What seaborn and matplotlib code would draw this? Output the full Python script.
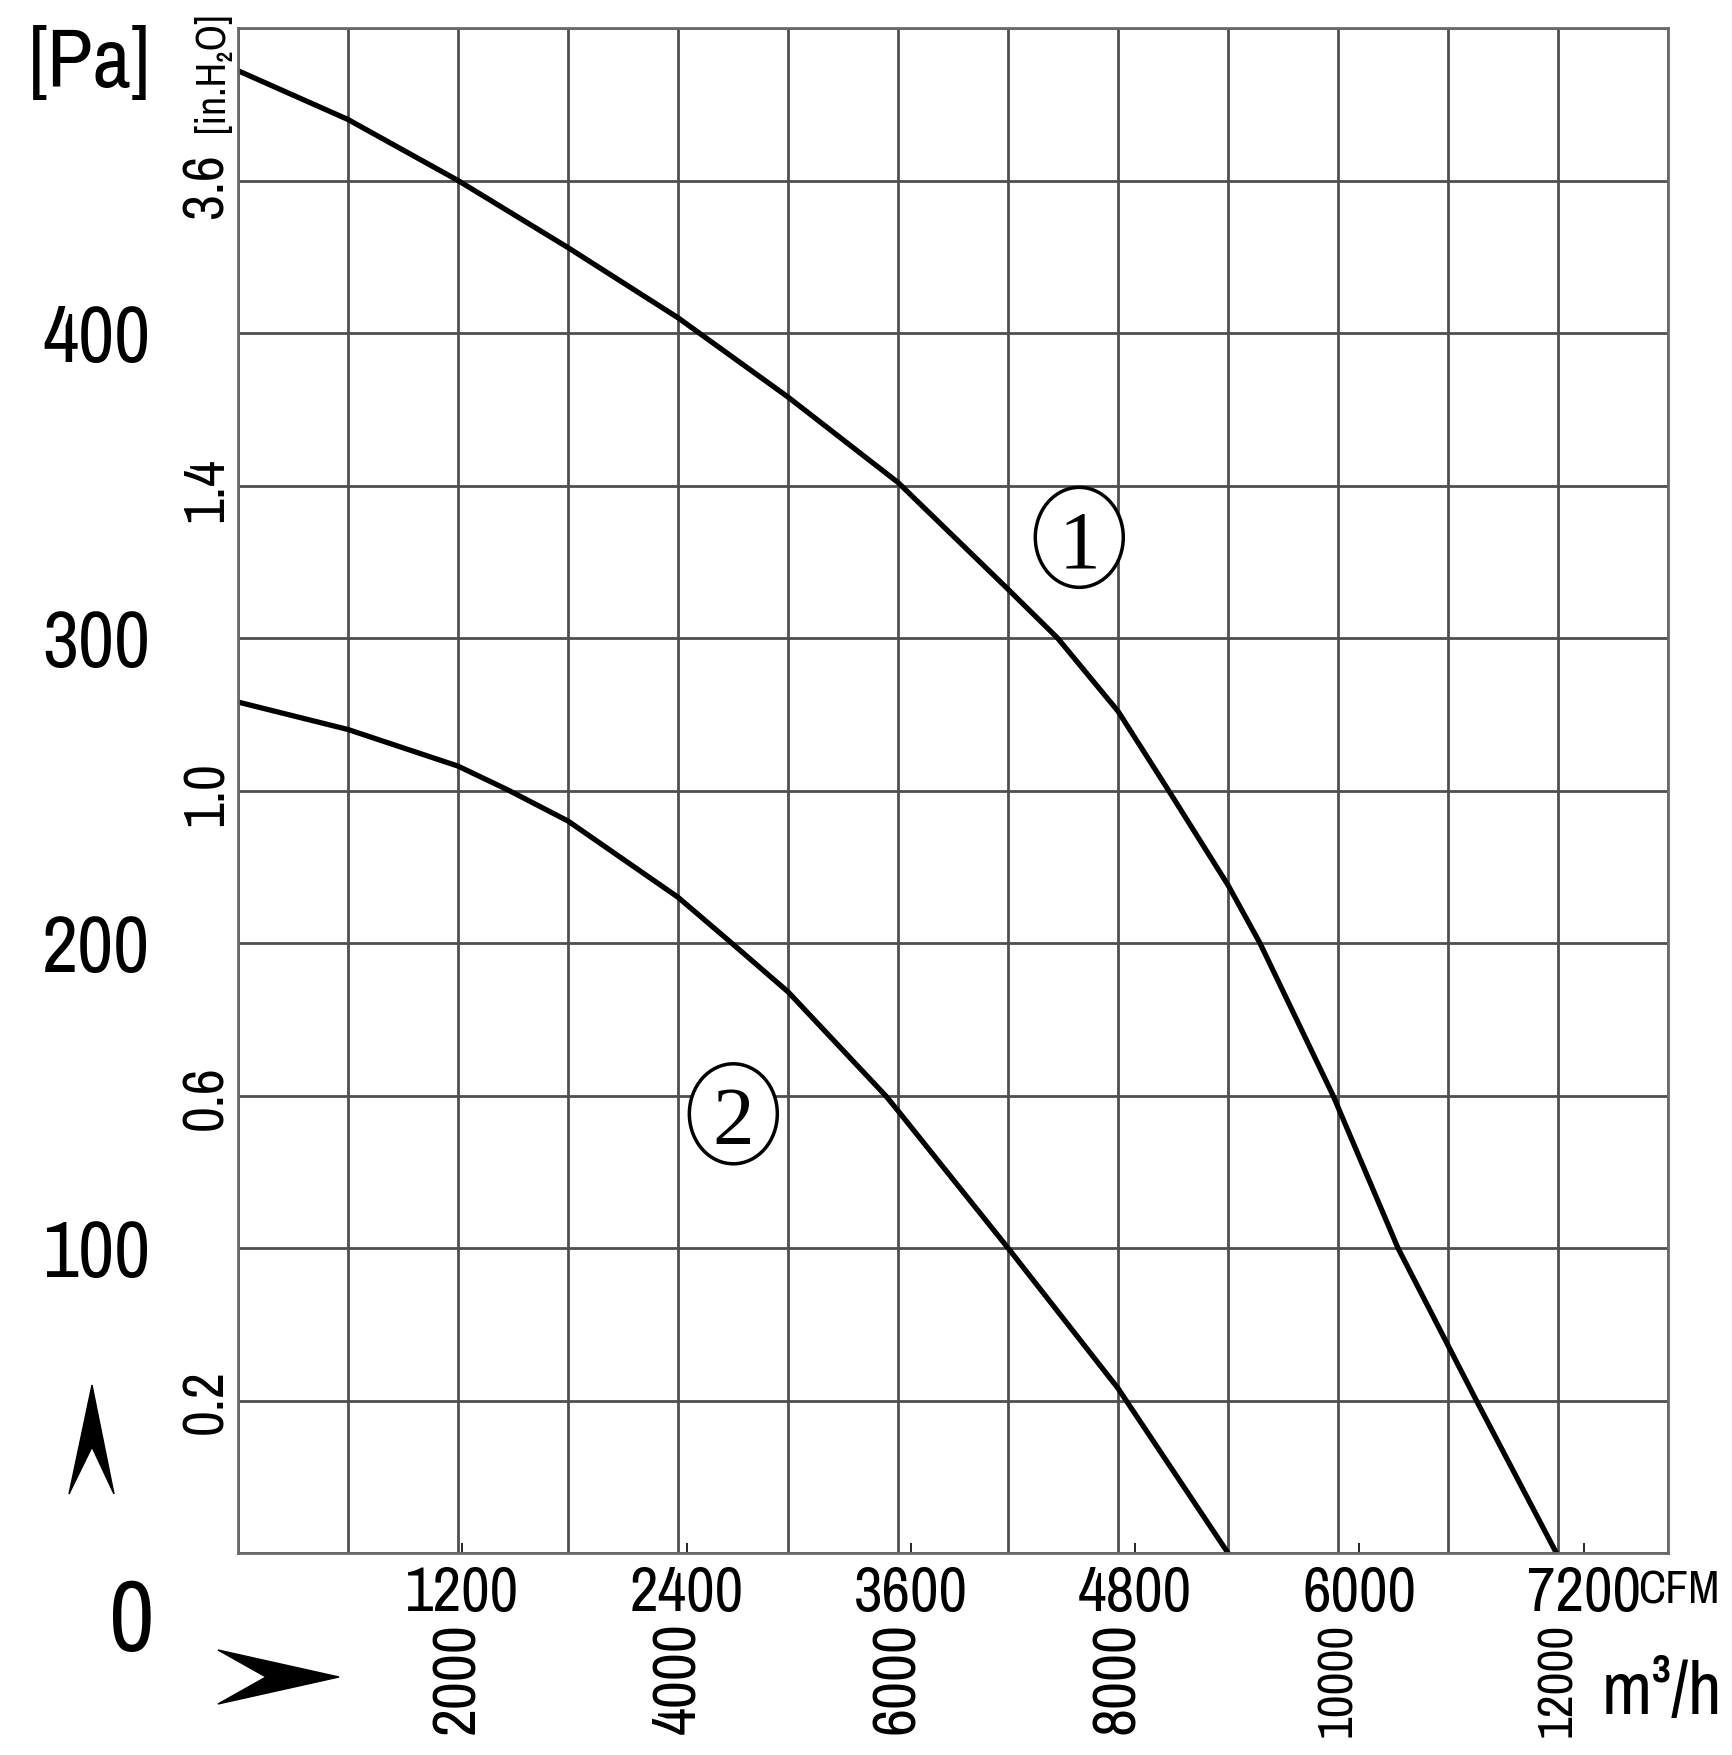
import matplotlib
matplotlib.use('Agg')
import matplotlib.pyplot as plt
import matplotlib.transforms as mtransforms
from matplotlib.patches import Polygon, Ellipse
import seaborn as sns
import numpy as np
import pandas as pd

# Fan curves: airflow in m3/h, static pressure in Pa
flow_1 = [0, 1000, 2000, 3000, 4000, 5000, 6000, 7000, 7450, 8000, 8460, 9000, 9290, 9955, 10545, 11258, 11985]
pres_1 = [486, 470, 450, 428, 405, 379, 351, 316, 300, 276, 250, 219, 200, 150, 100, 50, 0]
flow_2 = [0, 1000, 2000, 2464, 3000, 4000, 4487, 5000, 5886, 6000, 7000, 8000, 9000]
pres_2 = [279, 270, 258, 250, 240, 215, 200, 184, 150, 145, 100, 54, 0]

# curve number labels (position in m3/h, Pa)
label_names = ['1', '2']
label_x = [7648, 4503]
label_y = [333, 144]

cfm_ticks = [1200, 2400, 3600, 4800, 6000, 7200]
m3h_ticks = [2000, 4000, 6000, 8000, 10000, 12000]
pa_ticks = [100, 200, 300, 400]
inh2o_ticks = [0.2, 0.6, 1.0, 1.4, 1.8]
inh2o_labels = ['0.2', '0.6', '1.0', '1.4', '3.6']

CFM_TO_M3H = 1.699
INH2O_TO_PA = 249.0

df = pd.concat([
    pd.DataFrame({'flow': flow_1, 'pressure': pres_1, 'curve': '1'}),
    pd.DataFrame({'flow': flow_2, 'pressure': pres_2, 'curve': '2'}),
])

sns.set_style('white')
plt.rcParams['font.family'] = ['Liberation Sans Narrow', 'Arial Narrow', 'Archivo Narrow',
                               'Roboto Condensed', 'PT Sans Narrow', 'DejaVu Sans']
plt.rcParams['text.color'] = 'black'
plt.rcParams['xtick.color'] = 'black'
plt.rcParams['ytick.color'] = 'black'

W, H = 1733, 1755
fig = plt.figure(figsize=(W / 100, H / 100), dpi=100)
ax = fig.add_axes([238 / W, 1 - 1553 / H, 1430 / W, 1525 / H])

sns.lineplot(data=df, x='flow', y='pressure', hue='curve', palette=['black', 'black'],
             linewidth=3.8, legend=False, ax=ax, sort=False)
for ln in ax.get_lines():
    ln.set_solid_joinstyle('round')

ax.set_xlim(0, 13000)
ax.set_ylim(0, 500)
ax.set_xticks(np.arange(0, 13001, 1000))
ax.set_yticks(np.arange(0, 501, 50))
ax.tick_params(length=0, labelbottom=False, labelleft=False)
ax.grid(True, color='#4f4f4f', linewidth=2)
for s in ax.spines.values():
    s.set_color('#6a6a6a')
    s.set_linewidth(2)
ax.set_xlabel('')
ax.set_ylabel('')

# circled curve numbers
for name, fx, fy in zip(label_names, label_x, label_y):
    trans = fig.dpi_scale_trans + mtransforms.ScaledTranslation(fx, fy, ax.transData)
    ax.add_patch(Ellipse((0, 0), 0.88, 1.0, transform=trans, fc='white', ec='black', lw=2.5, zorder=3))
    ax.annotate(name, (fx, fy), xytext=(0, -22), textcoords='offset points',
                fontsize=60, family=['Liberation Serif', 'DejaVu Serif'],
                ha='center', va='baseline', zorder=4)

# CFM scale
sec_cfm = ax.secondary_xaxis('bottom', functions=(lambda x: x / CFM_TO_M3H, lambda x: x * CFM_TO_M3H))
sec_cfm.set_xticks(cfm_ticks)
sec_cfm.set_xticklabels([str(v) for v in cfm_ticks], fontsize=45)
sec_cfm.tick_params(length=7, width=1.2, direction='in', pad=9)
sec_cfm.spines['bottom'].set_visible(False)

# m3/h scale
sec_m3 = ax.secondary_xaxis('bottom')
sec_m3.set_xticks(m3h_ticks)
sec_m3.set_xticklabels([str(v) for v in m3h_ticks], rotation=90, va='top')
sec_m3.tick_params(length=0, pad=50)
sec_m3.spines['bottom'].set_visible(False)
for lbl in sec_m3.get_xticklabels():
    lbl.set_fontsize(44 if len(lbl.get_text()) == 4 else 36)

# in.H2O scale
sec_in = ax.secondary_yaxis('left', functions=(lambda y: y / INH2O_TO_PA, lambda y: y * INH2O_TO_PA))
sec_in.set_yticks(inh2o_ticks)
sec_in.set_yticklabels(inh2o_labels, fontsize=41, rotation=90, va='center')
sec_in.tick_params(length=0, pad=4)
sec_in.spines['left'].set_visible(False)

# Pa scale
sec_pa = ax.secondary_yaxis('left')
sec_pa.set_yticks(pa_ticks)
sec_pa.set_yticklabels([str(v) for v in pa_ticks], fontsize=57)
sec_pa.tick_params(length=0, pad=63)
sec_pa.spines['left'].set_visible(False)

# unit labels
fig.text(90 / W, 1 - 63 / H, '[Pa]', fontsize=60, ha='center', va='center')
fig.text(212 / W, 1 - 72 / H, '[in.H\u2082O]', fontsize=30, rotation=90, ha='center', va='center')
fig.text(132 / W, 1 - 1623 / H, '0', fontsize=72, ha='center', va='center')
fig.text(1638 / W, 1 - 1590 / H, 'CFM', fontsize=33, ha='left', va='center')
fig.text(1602 / W, 1 - 1693 / H, 'm\u00b3/h', fontsize=53, ha='left', va='center')

# direction arrows
up = Polygon([(92 / W, 1 - 1385 / H), (114 / W, 1 - 1494 / H),
              (92 / W, 1 - 1447 / H), (69 / W, 1 - 1494 / H)],
             closed=True, transform=fig.transFigure, color='black')
right = Polygon([(339 / W, 1 - 1677 / H), (218 / W, 1 - 1704 / H),
                 (266 / W, 1 - 1677 / H), (218 / W, 1 - 1650 / H)],
                closed=True, transform=fig.transFigure, color='black')
fig.patches.extend([up, right])

fig.savefig('out.png', dpi=100)
